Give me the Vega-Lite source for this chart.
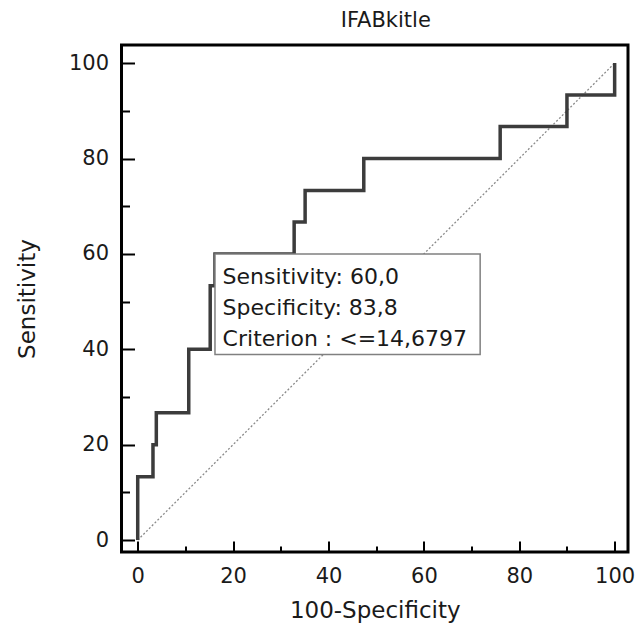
{
  "$schema": "https://vega.github.io/schema/vega-lite/v6.json",
  "width": 506.5,
  "height": 507,
  "autosize": "none",
  "padding": {"left": 121.5, "top": 45, "right": 9, "bottom": 86},
  "background": "white",
  "title": {"text": "IFABkitle", "font": "DejaVu Sans", "fontSize": 21, "fontWeight": "normal", "color": "#1a1a1a", "offset": 14, "dx": 11},
  "config": {
    "view": {"stroke": "black", "strokeWidth": 3},
    "axis": {
      "domain": false,
      "grid": false,
      "tickColor": "black",
      "tickWidth": 2,
      "labelFont": "DejaVu Sans",
      "labelFontSize": 21,
      "labelColor": "#1a1a1a",
      "titleFont": "DejaVu Sans",
      "titleFontSize": 23,
      "titleFontWeight": "normal",
      "titleColor": "#1a1a1a"
    }
  },
  "datasets": {
    "roc": [
      {"fpr": 0, "sens": 0},
      {"fpr": 3.2, "sens": 13.3},
      {"fpr": 3.9, "sens": 20},
      {"fpr": 10.7, "sens": 26.7},
      {"fpr": 15.2, "sens": 40},
      {"fpr": 16.2, "sens": 53.3},
      {"fpr": 32.8, "sens": 60},
      {"fpr": 35.1, "sens": 66.7},
      {"fpr": 47.4, "sens": 73.3},
      {"fpr": 76.0, "sens": 80},
      {"fpr": 90.0, "sens": 86.7},
      {"fpr": 100, "sens": 93.3},
      {"fpr": 100, "sens": 100}
    ],
    "diag": [
      {"fpr": 0, "sens": 0},
      {"fpr": 100, "sens": 100}
    ],
    "box": [
      {"x1": 16.2, "x2": 71.8, "y1": 60, "y2": 38.9}
    ],
    "labels": [
      {"x": 17.8, "y": 53.7, "text": "Sensitivity: 60,0"},
      {"x": 17.8, "y": 47.1, "text": "Specificity: 83,8"},
      {"x": 17.8, "y": 40.6, "text": "Criterion : <=14,6797"}
    ]
  },
  "layer": [
    {
      "data": {"name": "diag"},
      "mark": {"type": "line", "stroke": "#8a8a8a", "strokeWidth": 1.3, "strokeDash": [2, 2]},
      "encoding": {
        "x": {
          "field": "fpr", "type": "quantitative",
          "scale": {"domain": [-3.4, 102.8], "nice": false, "zero": false},
          "axis": {
            "values": [0, 5, 10, 15, 20, 25, 30, 35, 40, 45, 50, 55, 60, 65, 70, 75, 80, 85, 90, 95, 100],
            "labelExpr": "datum.value % 20 === 0 ? datum.label : ''",
            "tickSize": {"condition": {"test": "datum.value % 20 === 0", "value": -11}, "value": -6},
            "labelPadding": 24,
            "title": "100-Specificity",
            "titlePadding": 13
          }
        },
        "y": {
          "field": "sens", "type": "quantitative",
          "scale": {"domain": [-2.5, 103.8], "nice": false, "zero": false},
          "axis": {
            "values": [0, 5, 10, 15, 20, 25, 30, 35, 40, 45, 50, 55, 60, 65, 70, 75, 80, 85, 90, 95, 100],
            "labelExpr": "datum.value % 20 === 0 ? datum.label : ''",
            "tickSize": {"condition": {"test": "datum.value % 20 === 0", "value": -13}, "value": -8},
            "labelPadding": 26,
            "title": "Sensitivity",
            "titlePadding": 29
          }
        }
      }
    },
    {
      "data": {"name": "roc"},
      "mark": {"type": "line", "interpolate": "step-before", "stroke": "#3c3c3c", "strokeWidth": 3.5},
      "encoding": {
        "x": {"field": "fpr", "type": "quantitative"},
        "y": {"field": "sens", "type": "quantitative"}
      }
    },
    {
      "data": {"name": "box"},
      "mark": {"type": "rect", "fill": "white", "stroke": "#808080", "strokeWidth": 1.5},
      "encoding": {
        "x": {"field": "x1", "type": "quantitative"},
        "x2": {"field": "x2"},
        "y": {"field": "y1", "type": "quantitative"},
        "y2": {"field": "y2"}
      }
    },
    {
      "data": {"name": "labels"},
      "mark": {"type": "text", "font": "DejaVu Sans", "fontSize": 22, "align": "left", "baseline": "alphabetic", "color": "#1a1a1a"},
      "encoding": {
        "x": {"field": "x", "type": "quantitative"},
        "y": {"field": "y", "type": "quantitative"},
        "text": {"field": "text"}
      }
    }
  ]
}
